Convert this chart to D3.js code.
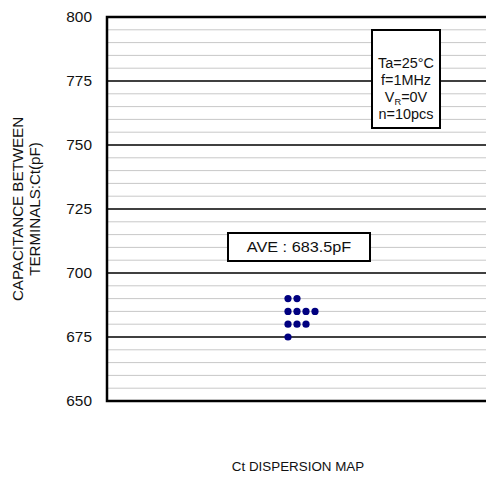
<!DOCTYPE html>
<html>
<head>
<meta charset="utf-8">
<script src="https://cdn.jsdelivr.net/npm/d3@7"></script>
<style>
body { margin: 0; background: #fff; }
svg { font-family: "Liberation Sans", Arial, sans-serif; fill: #111; }
</style>
</head>
<body>
<svg id="chart" width="486" height="479"></svg>
<script>
const width = 486;
const height = 479;
const svg = d3.select("#chart");

// measured Ct values (pF), n=10
const ctValues = [690, 690, 685, 685, 685, 685, 680, 680, 680, 675];
const yTicks = [650, 675, 700, 725, 750, 775, 800];
const conditions = ["Ta=25°C", "f=1MHz", "VR=0V", "n=10pcs"];
const aveLabel = "AVE : 683.5pF";

const margin = { top: 17, left: 107, bottom: 78, right: -3 };
const plotW = width - margin.left - margin.right;
const plotH = height - margin.top - margin.bottom;

const y = d3.scaleLinear().domain([650, 800]).range([plotH, 0]);
// dots stack sideways for repeated values
const x = d3.scaleLinear().domain([0, 1]).range([181, 190]);

// text is a bit wider than Liberation Sans, stretch it sideways
const stretch = 1.1;

const g = svg.append("g").attr("transform", `translate(${margin.left},${margin.top})`);

// minor grid
g.selectAll(".minor")
    .data(d3.range(655, 800, 5).filter(v => v % 25 !== 0))
    .join("line")
    .attr("x1", 0).attr("x2", plotW)
    .attr("y1", d => y(d)).attr("y2", d => y(d))
    .attr("stroke", "#c8c8c8").attr("stroke-width", 1);

// major grid
g.selectAll(".major")
    .data(yTicks.slice(1, -1))
    .join("line")
    .attr("x1", 0).attr("x2", plotW)
    .attr("y1", d => y(d)).attr("y2", d => y(d))
    .attr("stroke", "#000").attr("stroke-width", 1.5);

// frame
g.append("path")
    .attr("d", `M${plotW},0H0V${plotH}H${plotW}`)
    .attr("fill", "none").attr("stroke", "#000").attr("stroke-width", 2.5);

// tick labels
g.selectAll(".tick")
    .data(yTicks)
    .join("text")
    .attr("transform", d => `translate(-15,${y(d)}) scale(${stretch},1)`)
    .attr("dy", "0.36em")
    .attr("text-anchor", "end")
    .attr("font-size", 14)
    .text(d => d);

// dots
const seen = {};
const pts = ctValues.map(v => {
    seen[v] = (seen[v] || 0) + 1;
    return { v, col: seen[v] - 1 };
});
g.selectAll(".dot")
    .data(pts)
    .join("circle")
    .attr("cx", d => x(d.col))
    .attr("cy", d => y(d.v))
    .attr("r", 3.6)
    .attr("fill", "#000080");

// AVE box
g.append("rect")
    .attr("x", 121).attr("y", 216).attr("width", 142).attr("height", 28)
    .attr("fill", "#fff").attr("stroke", "#000").attr("stroke-width", 2);
g.append("text")
    .attr("transform", `translate(192,235) scale(1.16,1)`)
    .attr("text-anchor", "middle").attr("font-size", 14)
    .text(aveLabel);

// conditions box
g.append("rect")
    .attr("x", 265).attr("y", 13).attr("width", 68).attr("height", 98)
    .attr("fill", "#fff").attr("stroke", "#000").attr("stroke-width", 2);
conditions.forEach((c, i) => {
    const t = g.append("text")
        .attr("transform", `translate(299,${51 + i * 17}) scale(1.03,1)`)
        .attr("text-anchor", "middle").attr("font-size", 14);
    if (c.startsWith("VR")) {
        t.append("tspan").text("V");
        t.append("tspan").attr("font-size", 9).attr("dy", 3).text("R");
        t.append("tspan").attr("dy", -3).text(c.slice(2));
    } else {
        t.text(c);
    }
});

// axis titles
const yl = svg.append("text")
    .attr("transform", `translate(0,${margin.top + plotH / 2}) rotate(-90) scale(1.08,1)`)
    .attr("text-anchor", "middle").attr("font-size", 14);
yl.append("tspan").attr("x", 0).attr("y", 23).text("CAPACITANCE BETWEEN");
yl.append("tspan").attr("x", 0).attr("y", 40).text("TERMINALS:Ct(pF)");

svg.append("text")
    .attr("transform", `translate(298,471) scale(1.03,1)`)
    .attr("text-anchor", "middle").attr("font-size", 13)
    .text("Ct DISPERSION MAP");
</script>
</body>
</html>
